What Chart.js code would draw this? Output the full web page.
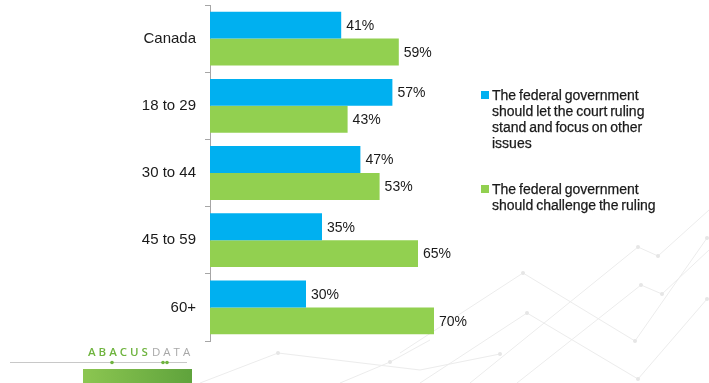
<!DOCTYPE html>
<html>
<head>
<meta charset="utf-8">
<script src="https://cdn.jsdelivr.net/npm/chart.js@4/dist/chart.umd.min.js"></script>
<style>
    html, body { margin: 0; padding: 0; background: #fff; }
    #wrap { position: relative; width: 709px; height: 383px; overflow: hidden; font-family: "Liberation Sans", Arial, sans-serif; }
    #bg { position: absolute; left: 0; top: 0; }
    #chart { position: absolute; left: 0; top: 0; }
    .legend-item { position: absolute; left: 481px; font-size: 14px; line-height: 16px; color: #1a1a1a; word-spacing: -1px; white-space: nowrap; -webkit-text-stroke: 0.25px #1a1a1a; }
    .legend-item span.box { position: absolute; left: 0; top: 4px; width: 8px; height: 8px; }
    .legend-item div { margin-left: 11px; }
    #logo { position: absolute; left: 88px; top: 344px; font-size: 11.5px; letter-spacing: 3px; font-family: "Open Sans", "Liberation Sans", sans-serif; }
    #logo .a { color: #6fb43f; font-weight: 600; margin-right: 1px; }
    #logo .d { color: #a8a8a8; }
    #logo-bar { position: absolute; left: 83px; top: 369px; width: 109px; height: 14px; background: linear-gradient(to right, #8cc651, #5fa33c); }
</style>
</head>
<body>
<div id="wrap">
    <svg id="bg" width="709" height="383">
        <g stroke="#ececec" stroke-width="1" fill="none">
            <polyline points="400,353 523,273 635,341 707,238"/>
            <polyline points="420,383 527,313 638,379 707,299"/>
            <polyline points="517,383 641,285 662,294 709,250"/>
            <polyline points="470,383 638,247 658,256 709,210"/>
            <polyline points="278,353 420,370 500,354"/>
            <polyline points="200,383 278,353 "/>
            <polyline points="340,383 390,362 430,340"/>
        </g>
        <g fill="#e6e6e6">
            <circle cx="523" cy="273" r="2"/>
            <circle cx="635" cy="341" r="2"/>
            <circle cx="707" cy="238" r="2"/>
            <circle cx="527" cy="313" r="2"/>
            <circle cx="638" cy="379" r="2"/>
            <circle cx="707" cy="299" r="2"/>
            <circle cx="641" cy="285" r="2"/>
            <circle cx="662" cy="294" r="2"/>
            <circle cx="638" cy="247" r="2"/>
            <circle cx="658" cy="256" r="2"/>
            <circle cx="500" cy="354" r="2"/>
            <circle cx="278" cy="353" r="2"/>
            <circle cx="390" cy="362" r="2"/>
        </g>
        <line x1="10" y1="362.5" x2="187" y2="362.5" stroke="#c8c8c8" stroke-width="1"/>
        <g fill="#6fb43f">
            <circle cx="112" cy="362.5" r="1.8"/>
            <circle cx="163" cy="362.5" r="1.8"/>
            <circle cx="167" cy="362.5" r="1.8"/>
        </g>
    </svg>
    <canvas id="chart" width="709" height="383"></canvas>
    <div class="legend-item" style="top: 87px;"><span class="box" style="background:#00b0f0"></span><div>The federal government<br>should let the court ruling<br>stand and focus on other<br>issues</div></div>
    <div class="legend-item" style="top: 181px;"><span class="box" style="background:#92d050"></span><div>The federal government<br>should challenge the ruling</div></div>
    <div id="logo"><span class="a">ABACUS</span><span class="d">DATA</span></div>
    <div id="logo-bar"></div>
</div>
<script>
// categories and survey shares (%)
const groups = ['Canada', '18 to 29', '30 to 44', '45 to 59', '60+'];
const letStand = [41, 57, 47, 35, 30];
const challenge = [59, 43, 53, 65, 70];

const seriesNames = [
    'The federal government should let the court ruling stand and focus on other issues',
    'The federal government should challenge the ruling'
];

// writes "NN%" to the right of every bar
const valueLabels = {
    id: 'valueLabels',
    afterDatasetsDraw: function(chart) {
        const ctx = chart.ctx;
        ctx.save();
        ctx.font = '14px "Liberation Sans", Arial, sans-serif';
        ctx.fillStyle = '#1a1a1a';
        ctx.textAlign = 'left';
        ctx.textBaseline = 'middle';
        chart.data.datasets.forEach(function(ds, i) {
            chart.getDatasetMeta(i).data.forEach(function(bar, j) {
                ctx.fillText(ds.data[j] + '%', bar.x + 5, bar.y + 1);
            });
        });
        ctx.restore();
    }
};

new Chart(document.getElementById('chart'), {
    type: 'bar',
    data: {
        labels: groups,
        datasets: [
            {
                label: seriesNames[0],
                data: letStand,
                backgroundColor: '#00b0f0',
                categoryPercentage: 0.8,
                barPercentage: 1.0
            },
            {
                label: seriesNames[1],
                data: challenge,
                backgroundColor: '#92d050',
                categoryPercentage: 0.8,
                barPercentage: 1.0
            }
        ]
    },
    options: {
        indexAxis: 'y',
        responsive: false,
        animation: false,
        layout: {
            padding: { left: 0, top: 5, right: 179, bottom: 42 }
        },
        plugins: {
            legend: { display: false },
            tooltip: { enabled: false }
        },
        scales: {
            x: {
                display: false,
                min: 0,
                max: 100
            },
            y: {
                grid: {
                    offset: true,
                    drawOnChartArea: false,
                    drawTicks: true,
                    tickLength: 5,
                    color: '#a6a6a6'
                },
                border: { color: '#a6a6a6' },
                ticks: {
                    padding: 9,
                    color: '#1a1a1a',
                    font: { family: '"Liberation Sans", Arial, sans-serif', size: 15 }
                },
                afterFit: function(scale) {
                    scale.width = 210;
                    scale.paddingTop = 0;
                    scale.paddingBottom = 0;
                }
            }
        }
    },
    plugins: [valueLabels]
});
</script>
</body>
</html>
